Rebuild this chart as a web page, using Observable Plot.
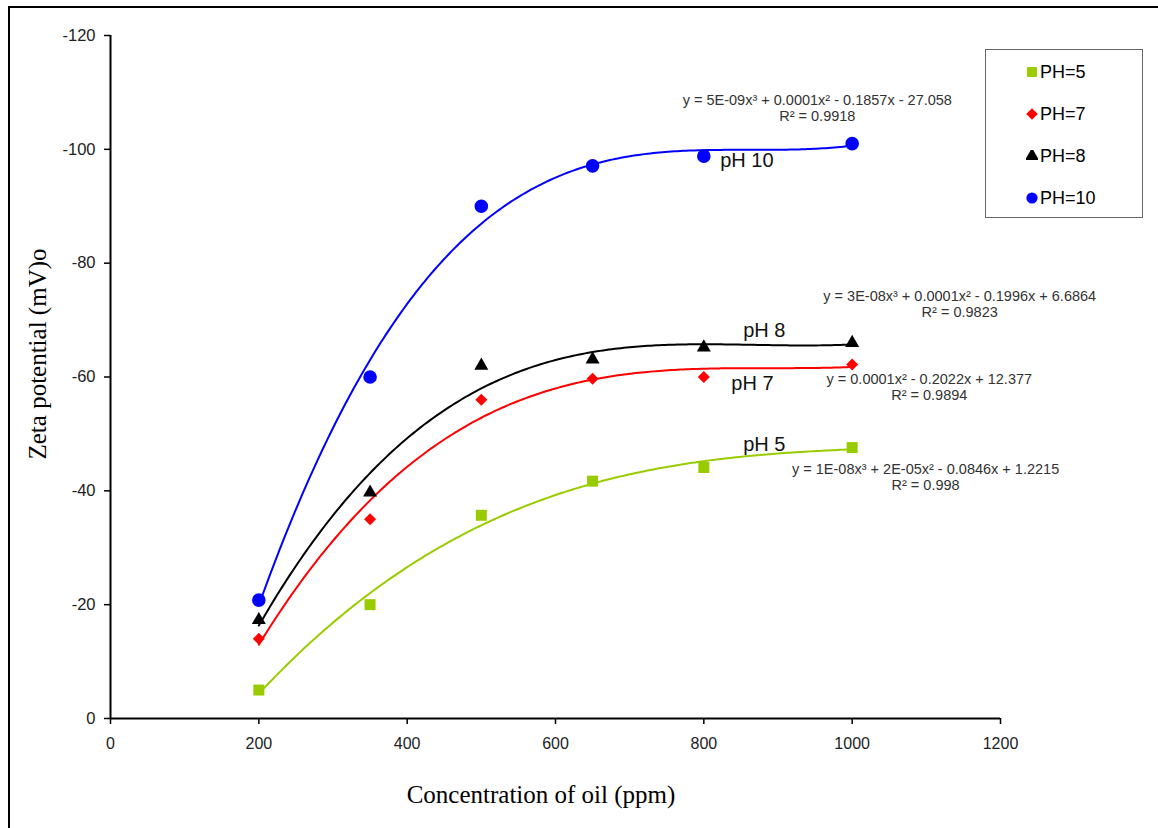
<!DOCTYPE html>
<html><head><meta charset="utf-8">
<script src="https://cdn.jsdelivr.net/npm/d3@7"></script>
<script src="https://cdn.jsdelivr.net/npm/@observablehq/plot@0.6"></script>
<style>
body{margin:0;background:#fff;}
#wrap{position:relative;width:1158px;height:828px;overflow:hidden;background:#fff;}
#frame{position:absolute;left:8px;top:6px;width:1200px;height:900px;border:2.5px solid #000;box-sizing:border-box;}
#chart{position:absolute;left:0;top:0;}
#chart svg{overflow:visible;}
#legend{position:absolute;left:985px;top:49px;width:158px;height:169px;border:1px solid #666;box-sizing:border-box;background:#fff;font-family:"Liberation Sans",Arial,sans-serif;font-size:18px;color:#000;}
.item{position:absolute;left:40px;display:flex;align-items:center;height:22px;}
.item svg{margin-right:2px;}
.ttl{position:absolute;font-family:"Liberation Serif","Times New Roman",serif;font-size:25px;color:#000;white-space:nowrap;}
</style></head><body>
<div id="wrap"><div id="frame"></div><div id="chart"></div><div id="legend"></div>
<div class="ttl" id="ytitle" style="left:38px;top:354px;transform:translate(-50%,-50%) rotate(-90deg);">Zeta potential (mV)o</div>
<div class="ttl" id="xtitle" style="left:541px;top:795px;transform:translate(-50%,-50%);">Concentration of oil (ppm)</div>
</div>
<script>
// ---- data ----
const concentration = [200, 350, 500, 650, 800, 1000];
const ph5  = [-5, -20, -35.7, -41.7, -44.1, -47.6];
const ph7  = [-14, -35, -56, -59.7, -60, -62.2];
const ph8  = [-17.3, -39.7, -62, -63.1, -65.2, -66];
const ph10 = [-20.8, -60, -90, -97.1, -98.8, -101];
const seriesNames = ["PH=5", "PH=7", "PH=8", "PH=10"];
const curveLabels = ["pH 5", "pH 7", "pH 8", "pH 10"];
const equations = [
  "y = 1E-08x³ + 2E-05x² - 0.0846x + 1.2215\nR² = 0.998",
  "y = 0.0001x² - 0.2022x + 12.377\nR² = 0.9894",
  "y = 3E-08x³ + 0.0001x² - 0.1996x + 6.6864\nR² = 0.9823",
  "y = 5E-09x³ + 0.0001x² - 0.1857x - 27.058\nR² = 0.9918"
];
const trendDegree = [3, 3, 3, 3];
const xTicks = [0, 200, 400, 600, 800, 1000, 1200];
const yTicks = [0, -20, -40, -60, -80, -100, -120];

// ---- styles / annotation placement (data coordinates) ----
const colors = ["#99cc00", "#ff0000", "#000000", "#0000ff"];
const symbols = ["square", "diamond2", "triangle", "circle"];
const radii = [6.2, 5.4, 5.2, 6.8];
const labelPos = [[853, -48.2], [837, -58.8], [853, -68.2], [822, -98]];
const eqPos = [[1099, -42.5], [1104, -58.3], [1145, -72.9], [953, -107.2]];

const values = [ph5, ph7, ph8, ph10];
const points = [];
values.forEach((vs, s) => vs.forEach((v, i) => points.push({x: concentration[i], y: v, s})));

// least-squares polynomial trendline (as in the original Excel trendlines)
function polyfit(xs, ys, deg) {
  const n = deg + 1;
  const A = Array.from({length: n}, () => new Array(n + 1).fill(0));
  xs.forEach((x0, k) => {
    const x = x0 / 1000;
    for (let i = 0; i < n; i++) {
      for (let j = 0; j < n; j++) A[i][j] += Math.pow(x, i + j);
      A[i][n] += ys[k] * Math.pow(x, i);
    }
  });
  for (let c = 0; c < n; c++) {
    let p = c;
    for (let r = c + 1; r < n; r++) if (Math.abs(A[r][c]) > Math.abs(A[p][c])) p = r;
    [A[c], A[p]] = [A[p], A[c]];
    for (let r = 0; r < n; r++) {
      if (r === c) continue;
      const f = A[r][c] / A[c][c];
      for (let j = c; j <= n; j++) A[r][j] -= f * A[c][j];
    }
  }
  const coef = A.map((row, i) => row[n] / row[i]);
  return x0 => { const x = x0 / 1000; return coef.reduce((s, c, i) => s + c * Math.pow(x, i), 0); };
}
const curves = [];
values.forEach((vs, s) => {
  const f = polyfit(concentration, vs, trendDegree[s]);
  for (let x = concentration[0]; x <= concentration[concentration.length - 1]; x += 4) curves.push({x, y: f(x), s});
});

const fmt = d => String(d);
const tickFont = '"Liberation Sans", Arial, sans-serif';

const chart = Plot.plot({
  width: 1158, height: 828,
  marginLeft: 110, marginRight: 158, marginTop: 35, marginBottom: 110,
  style: {fontFamily: tickFont, fontSize: "16px", color: "#222", background: "transparent"},
  x: {domain: [0, 1200], label: null},
  y: {domain: [0, -120], label: null},
  marks: [
    Plot.axisX({ticks: xTicks, tickFormat: fmt, tickSize: 6, tickPadding: 13, stroke: "#000", strokeWidth: 1.5, fontSize: 16, label: null}),
    Plot.axisY({ticks: yTicks, tickFormat: fmt, tickSize: 6, tickPadding: 9, stroke: "#000", strokeWidth: 1.5, fontSize: 16.5, label: null}),
    Plot.ruleY([0], {stroke: "#000", strokeWidth: 2}),
    Plot.ruleX([0], {stroke: "#000", strokeWidth: 2}),
    ...[0, 1, 2, 3].map(s => Plot.line(curves.filter(d => d.s === s), {x: "x", y: "y", stroke: colors[s], strokeWidth: 2})),
    ...[0, 1, 2, 3].map(s => Plot.dot(points.filter(d => d.s === s), {x: "x", y: "y", fill: colors[s], symbol: () => symbols[s], r: radii[s], stroke: null})),
    Plot.text(curveLabels, {x: (d, i) => labelPos[i][0], y: (d, i) => labelPos[i][1], text: d => d, textAnchor: "start", lineAnchor: "middle", fontSize: 20, fill: "#111"}),
    Plot.text(equations, {x: (d, i) => eqPos[i][0], y: (d, i) => eqPos[i][1], text: d => d, textAnchor: "middle", lineAnchor: "middle", fontSize: 14.5, lineHeight: 1.1, fill: "#333"})
  ]
});
document.getElementById("chart").appendChild(chart);

// legend
const legend = document.getElementById("legend");
const legendR = [5.6, 5.2, 5.2, 5.6];
seriesNames.forEach((name, i) => {
  const item = document.createElement("div");
  item.className = "item";
  item.style.top = (11 + i * 42) + "px";
  const sym = {square: d3.symbolSquare, diamond2: d3.symbolDiamond2, triangle: d3.symbolTriangle, circle: d3.symbolCircle}[symbols[i]];
  const r = legendR[i];
  const path = d3.symbol(sym, Math.PI * r * r)();
  item.innerHTML = `<svg width="12" height="12" viewBox="-6 -6 12 12"><path d="${path}" fill="${colors[i]}"/></svg><span>${name}</span>`;
  legend.appendChild(item);
});
</script>
</body></html>
